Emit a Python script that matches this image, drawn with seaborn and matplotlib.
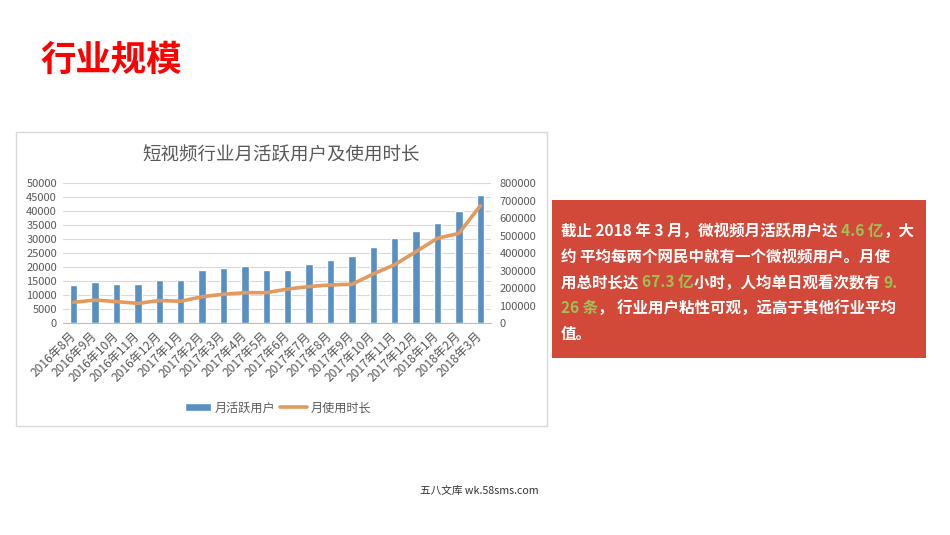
import matplotlib
matplotlib.use("Agg")
import matplotlib.pyplot as plt
from matplotlib.patches import Rectangle
import seaborn as sns
import pandas as pd

# === Data ===
months = ["2016年8月", "2016年9月", "2016年10月", "2016年11月", "2016年12月",
          "2017年1月", "2017年2月", "2017年3月", "2017年4月", "2017年5月",
          "2017年6月", "2017年7月", "2017年8月", "2017年9月", "2017年10月",
          "2017年11月", "2017年12月", "2018年1月", "2018年2月", "2018年3月"]
mau = [13700, 14700, 13900, 13900, 15350, 15350, 18900, 19900, 20350, 18900,
       18900, 21100, 22500, 24150, 27150, 30350, 33050, 35950, 40200, 45800]
hours = [120000, 133000, 124000, 114000, 130000, 126000, 152000, 166000, 175000, 175000,
         196000, 210000, 219000, 223000, 282000, 335000, 410000, 486000, 514000, 672000]
left_ticks = list(range(0, 50001, 5000))
right_ticks = list(range(0, 800001, 100000))

chart_title = "短视频行业月活跃用户及使用时长"
bar_label = "月活跃用户"
line_label = "月使用时长"
page_title = "行业规模"
watermark = "五八文库 wk.58sms.com"
note_lines = [
    [("截止 2018 年 3 月，微视频月活跃用户达 ", "w"), ("4.6 亿", "g"), ("，大", "w")],
    [("约 平均每两个网民中就有一个微视频用户。月使", "w")],
    [("用总时长达 ", "w"), ("67.3 亿", "g"), ("小时，人均单日观看次数有 ", "w"), ("9.", "g")],
    [("26 条", "g"), ("， 行业用户粘性可观，远高于其他行业平均", "w")],
    [("值。", "w")],
]

df = pd.DataFrame({"month": months, "mau": mau, "hours": hours})
df["pos"] = range(len(df))

# === Style ===
sns.set_style("white")
plt.rcParams["font.family"] = ["Noto Sans CJK SC", "DejaVu Sans"]

W, H = 950, 535
BAR_C = "#5A8FC2"
LINE_C = "#E39A5E"
GRAY = "#595959"
BOX_C = "#D2493A"
GREEN = "#9CC255"

fig = plt.figure(figsize=(W / 100, H / 100), dpi=100)
fig.patch.set_facecolor("white")

# overlay in pixel coordinates for page elements
over = fig.add_axes([0, 0, 1, 1], zorder=-1)
over.set_xlim(0, W)
over.set_ylim(H, 0)
over.axis("off")

over.text(40, 70.5, page_title, fontsize=25.5, fontweight="bold", color="#FF0000",
          ha="left", va="baseline")
over.add_patch(Rectangle((15.5, 131.5), 531, 294, fill=False, edgecolor="#D9D9D9", lw=1))
over.text(281.5, 160, chart_title, fontsize=13.3, color=GRAY, fontweight="light",
          ha="center", va="baseline")
over.text(479.5, 492, watermark, fontsize=7.7, color="#333333", ha="center", va="center")

# red note box
over.add_patch(Rectangle((552, 200), 374, 158, color=BOX_C, lw=0))
baselines = [236, 262, 287.5, 313, 338.5]
for yb, pieces in zip(baselines, note_lines):
    prev = None
    for txt, c in pieces:
        col = "white" if c == "w" else GREEN
        if prev is None:
            prev = over.text(561, yb, txt, fontsize=11.15, fontweight="bold", color=col,
                             ha="left", va="baseline")
        else:
            prev = over.annotate(txt, xy=(1, 0), xycoords=prev, fontsize=11.15,
                                 fontweight="bold", color=col, ha="left", va="bottom")

# === Chart ===
ax = fig.add_axes([63 / W, 1 - 323.3 / H, 428 / W, 140 / H])
ax.set_facecolor("none")
sns.barplot(data=df, x="pos", y="mau", color=BAR_C, saturation=1, width=0.34,
            label=bar_label, ax=ax)
ax.set_ylim(0, 50000)
ax.set_yticks(left_ticks)
ax.set_xlim(-0.5, len(months) - 0.5)
ax.yaxis.grid(True, color="#D9D9D9", lw=0.8)
ax.set_axisbelow(True)
for s in ["left", "right", "top"]:
    ax.spines[s].set_visible(False)
ax.spines["bottom"].set_color("#BFBFBF")
ax.set_xlabel("")
ax.set_ylabel("")
ax.set_xticks(df["pos"])
ax.set_xticklabels(months, rotation=45, ha="right", va="center", rotation_mode="anchor",
                   fontsize=8.7, color=GRAY)
ax.set_xticks([p - 0.5 for p in df["pos"]] + [len(months) - 0.5], minor=True)
ax.tick_params(axis="x", which="major", length=0, pad=8)
ax.tick_params(axis="x", which="minor", length=3, color="#BFBFBF", width=0.8)
ax.tick_params(axis="y", length=0, pad=4.3, labelsize=8, labelcolor=GRAY)

ax2 = ax.twinx()
sns.lineplot(data=df, x="pos", y="hours", color=LINE_C, lw=2.6, label=line_label,
             ax=ax2, sort=False)
ax2.set_ylim(0, 800000)
ax2.set_yticks(right_ticks)
ax2.set_ylabel("")
for s in ax2.spines.values():
    s.set_visible(False)
ax2.tick_params(axis="y", length=0, pad=6, labelsize=8, labelcolor=GRAY)
if ax2.get_legend() is not None:
    ax2.get_legend().remove()
if ax.get_legend() is not None:
    ax.get_legend().remove()

h1, l1 = ax.get_legend_handles_labels()
h2, l2 = ax2.get_legend_handles_labels()
fig.legend(h1 + h2, l1 + l2, loc="center", bbox_to_anchor=(278 / W, 1 - 408 / H),
           ncol=2, frameon=False, fontsize=8.7, handlelength=2.2, handleheight=0.6,
           handletextpad=0.3, columnspacing=0.4, labelcolor=GRAY)

fig.savefig("out.png", dpi=100, facecolor="white")
